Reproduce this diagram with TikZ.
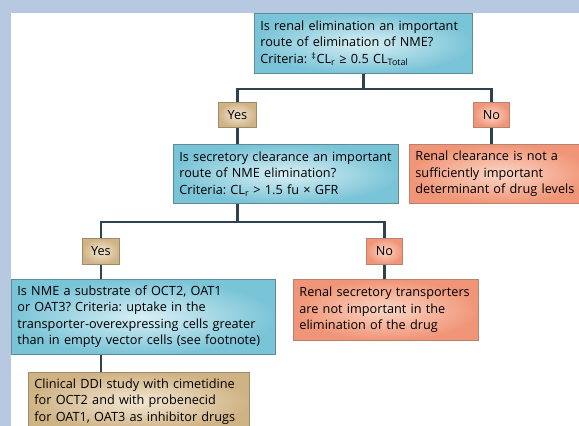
\documentclass[tikz,border=0pt]{standalone}
\usepackage{fontspec}
\setmainfont{Open Sans}
\frenchspacing
\definecolor{bandc}{HTML}{B7C9E1}
\definecolor{blueout}{HTML}{7AC4D7}
\definecolor{bluein}{HTML}{D8EFF5}
\definecolor{blueline}{HTML}{5E8A9A}
\definecolor{tanout}{HTML}{D0B385}
\definecolor{tanin}{HTML}{F2E7D3}
\definecolor{tanline}{HTML}{9A8A6E}
\definecolor{redout}{HTML}{F09577}
\definecolor{redin}{HTML}{FBD6C6}
\definecolor{redline}{HTML}{B88270}
\definecolor{linkc}{HTML}{2E4250}
\tikzset{
  txt/.style={font=\fontsize{12.7}{16.5}\selectfont},
  box/.style={txt, draw, line width=0.8pt, inner xsep=6pt, inner ysep=0pt,
    anchor=north west, align=left, shading=radial},
  bluebox/.style={box, draw=blueline, inner color=bluein, outer color=blueout},
  redbox/.style={box, draw=redline, inner color=redin, outer color=redout},
  tanbox/.style={box, draw=tanline, inner color=tanin, outer color=tanout},
  lab/.style={txt, draw, line width=0.8pt, inner sep=0pt, anchor=north west, shading=radial},
  yeslab/.style={lab, draw=tanline, inner color=tanin, outer color=tanout},
  nolab/.style={lab, draw=redline, inner color=redin, outer color=redout},
  link/.style={draw=linkc, line width=2.2pt}
}
\begin{document}
\hyphenpenalty=10000
\exhyphenpenalty=10000
\begin{tikzpicture}[x=1pt,y=-1pt]
\useasboundingbox (0,0) rectangle (579,426);
\clip (0,0) rectangle (579,426);
\fill[bandc] (0,0) rectangle (579,426);
\fill[white] (11,13) rectangle (579,426);

% boxes
\node[bluebox, text width=206pt, minimum height=60pt] (b1) at (254,13)
  {Is renal elimination an important\\route of elimination of NME?\\Criteria: \textsuperscript{‡}CL\textsubscript{r} ≥ 0.5 CL\textsubscript{Total}};
\node[yeslab, minimum width=38pt, minimum height=25pt] (y1) at (218,102) {Yes};
\node[nolab, minimum width=36pt, minimum height=25pt] (n1) at (473,102) {No};
\node[bluebox, text width=213pt, minimum height=59pt] (b2) at (173,144)
  {Is secretory clearance an important\\route of NME elimination?\\Criteria: CL\textsubscript{r} > 1.5 fu × GFR};
\node[redbox, text width=170pt, minimum height=59pt] (b3) at (409,144)
  {Renal clearance is not a\\sufficiently important\\determinant of drug levels};
\node[yeslab, minimum width=37pt, minimum height=26pt] (y2) at (82,238) {Yes};
\node[nolab, minimum width=36pt, minimum height=26pt] (n2) at (366,238) {No};
\node[bluebox, text width=252pt, minimum height=75pt] (b4) at (11,279)
  {Is NME a substrate of OCT2, OAT1\\or OAT3? Criteria: uptake in the\\transporter-overexpressing cells greater\\than in empty vector cells (see footnote)};
\node[redbox, text width=173pt, minimum height=61pt] (b5) at (293,279)
  {Renal secretory transporters\\are not important in the\\elimination of the drug};
\node[tanbox, text width=209pt, minimum height=58pt] (b6) at (28,372)
  {Clinical DDI study with cimetidine\\for OCT2 and with probenecid\\for OAT1, OAT3 as inhibitor drugs};

% connectors
\coordinate (j1) at ([yshift=-15pt]b1.south);
\draw[link] (b1.south) -- (j1) -| (y1.north);
\draw[link] (j1) -| (n1.north);
\draw[link] (y1.south) -- (y1.south |- b2.north);
\draw[link] (n1.south) -- (n1.south |- b3.north);
\coordinate (s2) at (y1.south |- b2.south);
\coordinate (j2) at ([yshift=-18pt]s2);
\draw[link] (s2) -- (j2) -| (y2.north);
\draw[link] (j2) -| (n2.north);
\draw[link] (y2.south) -- (y2.south |- b4.north);
\draw[link] (n2.south) -- (n2.south |- b5.north);
\draw[link] (y2.south |- b4.south) -- (y2.south |- b6.north);
\end{tikzpicture}
\end{document}
